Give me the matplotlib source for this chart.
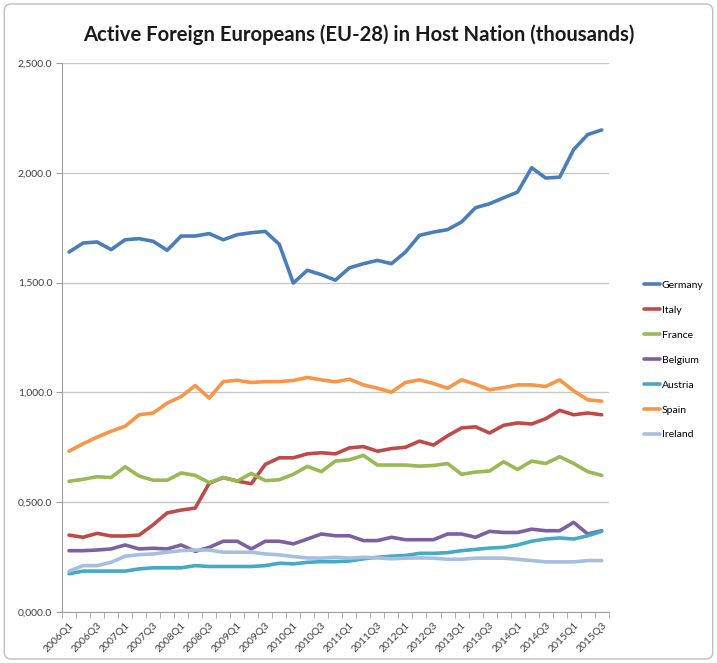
import numpy as np
import matplotlib
matplotlib.use("Agg")
import matplotlib.pyplot as plt
from matplotlib.patches import FancyBboxPatch

plt.rcParams['font.family'] = ['Lato', 'DejaVu Sans']

# quarters 2006Q1 .. 2015Q3
quarters = ["%dQ%d" % (y, q) for y in range(2006, 2016) for q in range(1, 5)][:39]

germany = [1639, 1680, 1685, 1650, 1695, 1700, 1688, 1647, 1712, 1712,
           1723, 1695, 1718, 1727, 1733, 1674, 1498, 1556, 1536, 1511,
           1567, 1586, 1601, 1586, 1639, 1715, 1730, 1741, 1776, 1841,
           1859, 1886, 1912, 2023, 1976, 1980, 2106, 2174, 2195]
italy = [350, 340, 358, 346, 346, 350, 397, 451, 464, 473,
         586, 612, 596, 584, 672, 702, 702, 720, 725, 720,
         747, 753, 732, 744, 750, 778, 760, 802, 838, 843,
         815, 850, 861, 856, 880, 918, 898, 906, 898]
france = [595, 604, 616, 612, 661, 619, 600, 600, 633, 622,
          589, 612, 596, 631, 598, 602, 627, 663, 639, 687,
          693, 713, 669, 669, 669, 664, 667, 676, 627, 637,
          642, 684, 649, 687, 676, 707, 676, 639, 622]
belgium = [279, 279, 282, 287, 305, 287, 290, 287, 305, 276,
           294, 322, 322, 287, 322, 322, 310, 332, 355, 347,
           347, 325, 325, 340, 329, 329, 329, 355, 355, 340,
           367, 362, 362, 377, 370, 370, 408, 355, 370]
austria = [174, 186, 186, 186, 186, 196, 201, 201, 201, 211,
           207, 207, 207, 207, 211, 222, 219, 226, 229, 229,
           232, 242, 249, 254, 257, 267, 267, 270, 279, 285,
           291, 294, 305, 322, 332, 337, 332, 347, 367]
spain = [732, 766, 796, 823, 846, 898, 906, 951, 981, 1031,
         974, 1049, 1055, 1045, 1049, 1049, 1054, 1068, 1057, 1048,
         1060, 1034, 1019, 1001, 1045, 1057, 1040, 1019, 1057, 1037,
         1012, 1022, 1034, 1034, 1027, 1057, 1007, 966, 960]
ireland = [186, 211, 211, 226, 254, 261, 264, 272, 279, 282,
           282, 272, 272, 272, 264, 260, 252, 246, 245, 249,
           245, 249, 246, 242, 245, 246, 245, 240, 240, 245,
           245, 245, 240, 234, 228, 228, 228, 234, 234]

names = ["Germany", "Italy", "France", "Belgium", "Austria", "Spain", "Ireland"]
series = [germany, italy, france, belgium, austria, spain, ireland]
colors = ["#4A7EBB", "#BE4B48", "#98B954", "#7D60A0", "#46AAC5", "#F79646", "#A5BFDF"]

fig = plt.figure(figsize=(7.17, 6.63), dpi=100)
border = FancyBboxPatch((0.006, 0.006), 0.988, 0.988, boxstyle="round,pad=0,rounding_size=0.01",
                        transform=fig.transFigure, fill=False, edgecolor="#BFBFBF", linewidth=1.0)
fig.patches.append(border)

ax = fig.add_axes([0.0865, 0.077, 0.7625, 0.828])
x = np.arange(len(quarters))
for name, vals, c in zip(names, series, colors):
    ax.plot(x, vals, color=c, linewidth=2.6, label=name, solid_capstyle='round', solid_joinstyle='round')

ax.set_xlim(-0.5, len(quarters) - 0.5)
ax.set_ylim(0, 2500)
yt = np.arange(0, 2501, 500)
ax.set_yticks(yt)
ax.set_yticklabels(["%s,%s.0" % (str(v // 1000), "%03d" % (v % 1000)) for v in yt], fontsize=7.5, color="#404040")
ax.yaxis.grid(True, color="#C8C8C8", linewidth=1.0)
ax.set_axisbelow(True)

ax.set_xticks(x[::2])
ax.set_xticklabels(quarters[::2], rotation=45, ha='right', rotation_mode='anchor', fontsize=7.5, color="#404040")
ax.set_xticks(np.arange(-0.5, len(quarters), 1), minor=True)
ax.tick_params(axis='x', which='major', length=0, pad=6)
ax.tick_params(axis='x', which='minor', length=4, color="#A0A0A0", direction='out')
ax.tick_params(axis='y', length=4, color="#A0A0A0", direction='out', pad=3)

for s in ["top", "right"]:
    ax.spines[s].set_visible(False)
ax.spines["left"].set_color("#A0A0A0")
ax.spines["bottom"].set_color("#A0A0A0")

fig.text(0.5, 0.947, "Active Foreign Europeans (EU-28) in Host Nation (thousands)",
         ha='center', va='center', fontsize=14.6, fontweight='bold', color="#1A1A1A")

fig.legend(loc='upper left', bbox_to_anchor=(0.893, 0.583), frameon=False, fontsize=7.5,
           handlelength=1.5, handletextpad=0.15, labelspacing=1.5, borderaxespad=0)

fig.savefig("out.png", dpi=100)
